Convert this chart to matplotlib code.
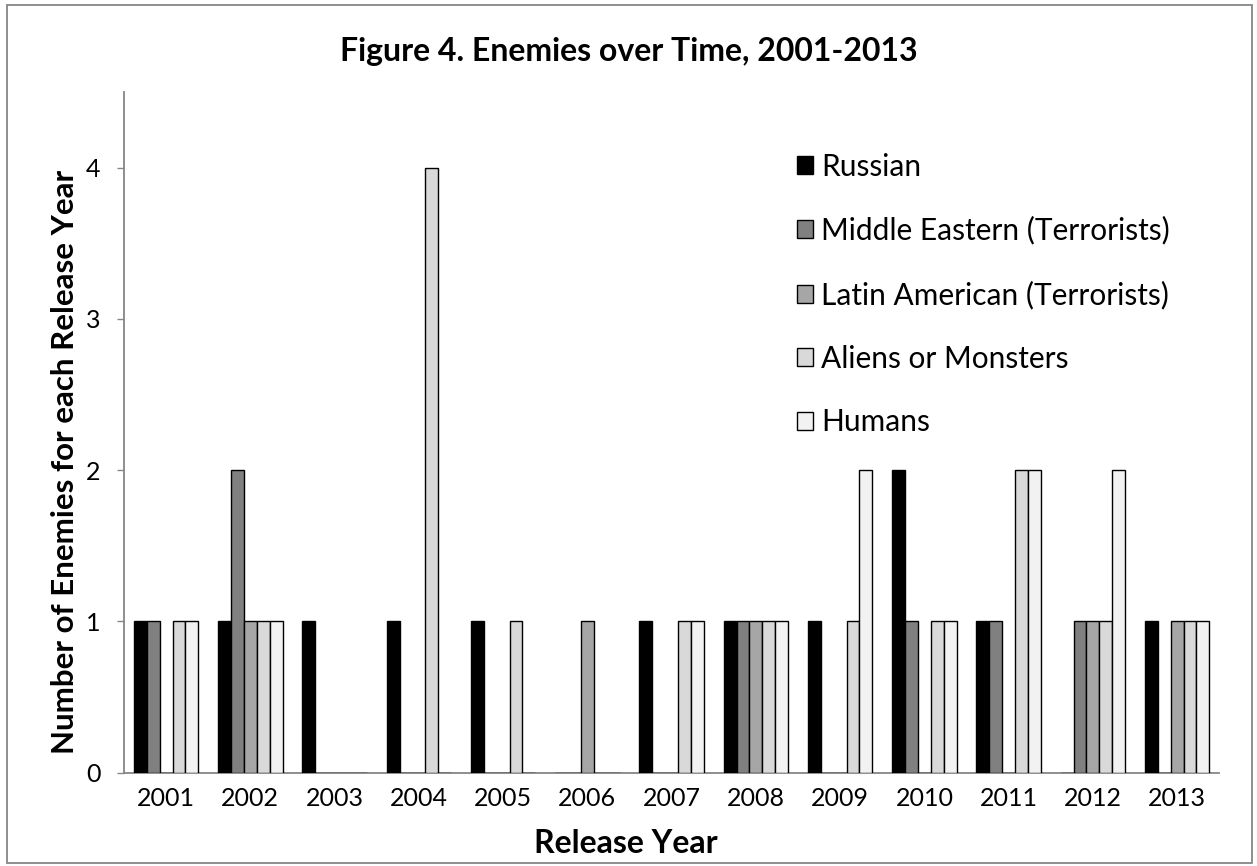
import matplotlib
matplotlib.use("Agg")
import matplotlib.pyplot as plt
from matplotlib.patches import Patch, Rectangle
import numpy as np

plt.rcParams['font.family'] = ['Lato', 'DejaVu Sans']

years = ["2001", "2002", "2003", "2004", "2005", "2006", "2007",
         "2008", "2009", "2010", "2011", "2012", "2013"]
series_names = ["Russian", "Middle Eastern (Terrorists)", "Latin American (Terrorists)",
                "Aliens or Monsters", "Humans"]
russian =        [1, 1, 1, 1, 1, 0, 1, 1, 1, 2, 1, 0, 1]
middle_eastern = [1, 2, 0, 0, 0, 0, 0, 1, 0, 1, 1, 1, 0]
latin_american = [0, 1, 0, 0, 0, 1, 0, 1, 0, 0, 0, 1, 1]
aliens =         [1, 1, 0, 4, 1, 0, 1, 1, 1, 1, 2, 1, 1]
humans =         [1, 1, 0, 0, 0, 0, 1, 1, 2, 1, 2, 2, 1]
colors = ["#000000", "#808080", "#A6A6A6", "#D9D9D9", "#F2F2F2"]

fig = plt.figure(figsize=(12.57, 8.66), dpi=100)
ax = fig.add_axes([0.0986, 0.1077, 0.8714, 0.7861])

data = [russian, middle_eastern, latin_american, aliens, humans]
x = np.arange(len(years))
w = 0.153
for i, (vals, c) in enumerate(zip(data, colors)):
    ax.bar(x + (i - 2) * w, vals, width=w, color=c, edgecolor="black",
           linewidth=1.0, zorder=3)

ax.set_xlim(-0.5, len(years) - 0.5)
ax.set_ylim(0, 4.5)
ax.set_yticks([0, 1, 2, 3, 4])
ax.set_xticks(x)
ax.set_xticklabels(years)
ax.tick_params(axis='y', length=5, width=1, color="#868686", labelsize=18, pad=12)
ax.tick_params(axis='x', length=0, labelsize=18, pad=10)
for s in ["top", "right"]:
    ax.spines[s].set_visible(False)
for s in ["left", "bottom"]:
    ax.spines[s].set_color("#868686")
    ax.spines[s].set_linewidth(1.3)

ax.set_xlabel("Release Year", fontsize=23, fontweight="bold", va="center")
ax.xaxis.set_label_coords(0.458, -0.104)
ax.set_ylabel("Number of Enemies for each Release Year", fontsize=22.5,
              fontweight="bold", va="center")
ax.yaxis.set_label_coords(-0.054, 0.456)
fig.text(0.5, 0.940, "Figure 4. Enemies over Time, 2001-2013", ha="center",
         va="center", fontsize=23, fontweight="bold")

handles = [Patch(facecolor=c, edgecolor="black", linewidth=1.0) for c in colors]
leg = ax.legend(handles, series_names, loc="upper left",
                bbox_to_anchor=(0.6245, 0.8375), bbox_transform=fig.transFigure,
                frameon=False, fontsize=21.5, handlelength=0.55, handleheight=0.55,
                handletextpad=0.25, labelspacing=1.19, borderaxespad=0)

fig.patches.append(Rectangle((0.0056, 0.0035), 0.9904, 0.9907,
                             transform=fig.transFigure, fill=False,
                             edgecolor="#868686", linewidth=1.3))

fig.savefig("out.png", dpi=100)
